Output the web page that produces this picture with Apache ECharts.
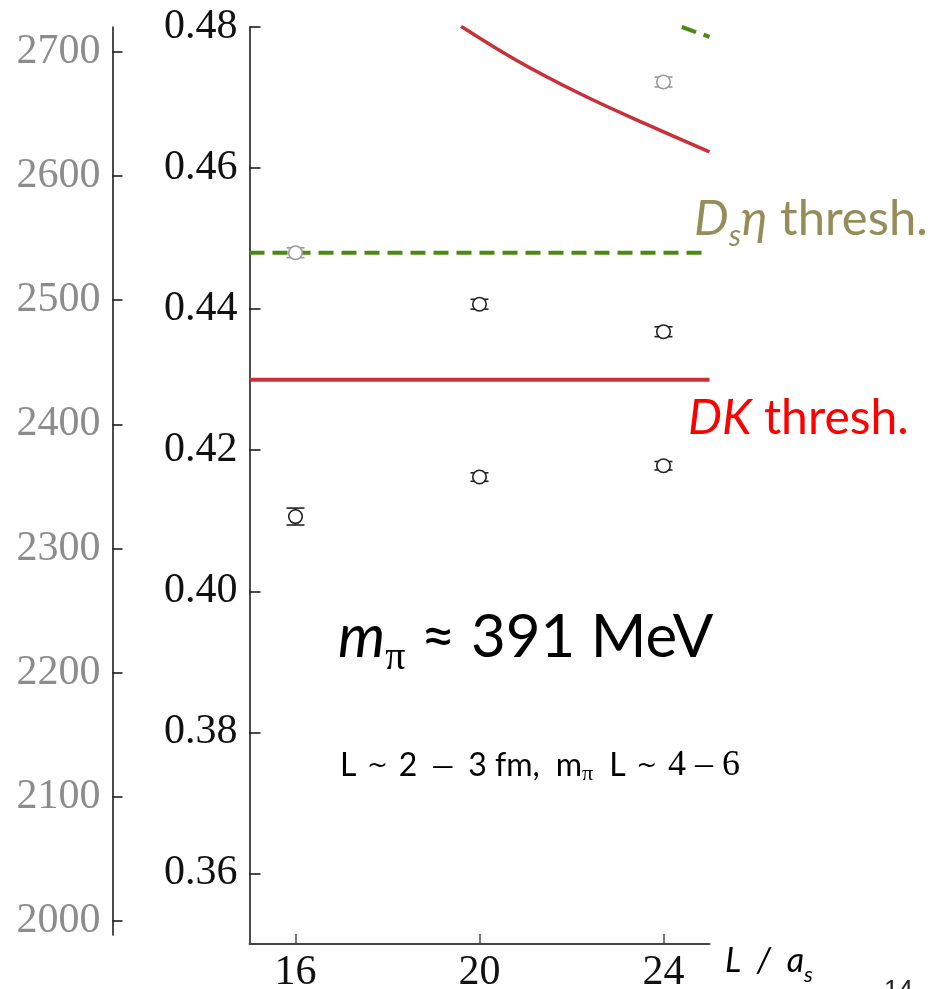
<!DOCTYPE html>
<html>
<head>
<meta charset="utf-8">
<script src="https://cdn.jsdelivr.net/npm/echarts@6/dist/echarts.min.js"></script>
<style>
html,body{margin:0;padding:0;background:#fff;}
#chart{width:935px;height:989px;}
</style>
</head>
<body>
<div id="chart"></div>
<script>
// ---- data ----
const xTicks = [16, 20, 24];
const energyTicks = [0.36, 0.38, 0.40, 0.42, 0.44, 0.46, 0.48];
const massTicks = [2000, 2100, 2200, 2300, 2400, 2500, 2600, 2700];

const levelL = [16, 16, 20, 20, 24, 24, 24];
const levelE = [0.4480, 0.4106, 0.4407, 0.4162, 0.4368, 0.4178, 0.4722];
const levelErr = [0.0007, 0.0012, 0.0007, 0.0006, 0.0007, 0.0006, 0.0007];
const levelFaded = [true, false, false, false, false, false, true];

const dkThreshold = 0.4300;
const dsEtaThreshold = 0.4480;
const thresholdRange = [15, 25];

const curveRedL = [19.6, 20.8, 22.2, 23.6, 25.0];
const curveRedE = [0.4801, 0.4753, 0.4705, 0.4663, 0.4623];
const curveGreenL = [24.4, 25.0];
const curveGreenE = [0.4800, 0.4786];

// ---- build ----
const pts = levelL.map((l, i) => [l, levelE[i], levelErr[i], levelFaded[i] ? 1 : 0]);
const red = '#c8303a', green = '#4a8a10';
const serif = 'Liberation Serif';
const es = '\u2002', ts = '\u2004';

const chart = echarts.init(document.getElementById('chart'), null, {renderer: 'canvas'});
chart.setOption({
  animation: false,
  backgroundColor: '#fff',
  grid: [
    {left: 249.5, top: 27, width: 460, height: 917, containLabel: false, outerBoundsMode: 'none'},
    {left: 112.5, top: 27, width: 1, height: 908, containLabel: false, outerBoundsMode: 'none'}
  ],
  xAxis: [
    {
      type: 'value', gridIndex: 0, min: 15, max: 25,
      axisLine: {show: true, lineStyle: {color: '#444', width: 2}},
      axisTick: {show: true, inside: true, length: 10, customValues: xTicks, lineStyle: {color: '#444', width: 1.5}},
      axisLabel: {customValues: xTicks, color: '#111', fontFamily: serif, fontSize: 42, margin: 8},
      splitLine: {show: false}
    },
    {type: 'value', gridIndex: 1, show: false, min: 0, max: 1}
  ],
  yAxis: [
    {
      type: 'value', gridIndex: 0, min: 0.35, max: 0.48,
      axisLine: {show: true, lineStyle: {color: '#111', width: 1.5}},
      axisTick: {show: true, inside: true, length: 11, customValues: energyTicks, lineStyle: {color: '#111', width: 1.5}},
      axisLabel: {customValues: energyTicks, color: '#111', fontFamily: serif, fontSize: 42, margin: 12,
        formatter: v => v.toFixed(2)},
      splitLine: {show: false}
    },
    {
      type: 'value', gridIndex: 1, min: 1988.7, max: 2720.1,
      axisLine: {show: true, lineStyle: {color: '#111', width: 1.5}},
      axisTick: {show: true, inside: true, length: 10, customValues: massTicks, lineStyle: {color: '#111', width: 1.5}},
      axisLabel: {customValues: massTicks, color: '#8c8c8c', fontFamily: serif, fontSize: 42, margin: 12,
        formatter: v => String(v)},
      splitLine: {show: false}
    }
  ],
  series: [
    {
      type: 'line', name: 'DK', data: thresholdRange.map(l => [l, dkThreshold]),
      symbol: 'none', lineStyle: {color: red, width: 4}, z: 2
    },
    {
      type: 'line', name: 'Dseta', data: thresholdRange.map(l => [l, dsEtaThreshold]),
      symbol: 'none', lineStyle: {color: green, width: 4, type: [15, 8]}, z: 2
    },
    {
      type: 'line', name: 'DKcurve', data: curveRedL.map((l, i) => [l, curveRedE[i]]),
      symbol: 'none', smooth: 0.4, lineStyle: {color: red, width: 3.5}, z: 2
    },
    {
      type: 'line', name: 'Dsetacurve', data: curveGreenL.map((l, i) => [l, curveGreenE[i]]),
      symbol: 'none', lineStyle: {color: green, width: 4, type: [15, 8]}, z: 2
    },
    {
      type: 'custom', name: 'err', data: pts, z: 3,
      renderItem: function (params, api) {
        const x = api.value(0), y = api.value(1), e = api.value(2);
        const c = api.value(3) ? '#9a9a9a' : '#222';
        const t = api.coord([x, y + e]), b = api.coord([x, y - e]);
        const hw = 9;
        const st = {stroke: c, lineWidth: 1.6};
        return {type: 'group', children: [
          {type: 'line', shape: {x1: t[0], y1: t[1], x2: b[0], y2: b[1]}, style: st},
          {type: 'line', shape: {x1: t[0] - hw, y1: t[1], x2: t[0] + hw, y2: t[1]}, style: st},
          {type: 'line', shape: {x1: b[0] - hw, y1: b[1], x2: b[0] + hw, y2: b[1]}, style: st}
        ]};
      }
    },
    {
      type: 'scatter', name: 'levels', z: 4, symbol: 'circle', symbolSize: 13.5,
      data: pts.map(p => ({value: [p[0], p[1]], itemStyle: {color: '#fff', opacity: 1, borderColor: p[3] ? '#9a9a9a' : '#222', borderWidth: 1.6}}))
    }
  ],
  graphic: [
    {
      type: 'text', x: 694, y: 219, z: 10,
      style: {
        text: '{i|D}{is|s}{i|η}{n| thresh.}',
        verticalAlign: 'middle', align: 'left', fill: '#968c5a',
        rich: {
          i: {fontFamily: 'Lato', fontStyle: 'italic', fontSize: 49, lineHeight: 65},
          is: {fontFamily: 'Lato', fontStyle: 'italic', fontSize: 31, lineHeight: 10, verticalAlign: 'bottom'},
          n: {fontFamily: 'Lato', fontSize: 49, lineHeight: 65}
        }
      }
    },
    {
      type: 'text', x: 688, y: 419, z: 10,
      style: {
        text: '{i|DK}{n| thresh.}',
        verticalAlign: 'middle', align: 'left', fill: '#ff0000',
        rich: {
          i: {fontFamily: 'Lato', fontStyle: 'italic', fontSize: 48, lineHeight: 54},
          n: {fontFamily: 'Lato', fontSize: 48, lineHeight: 54}
        }
      }
    },
    {
      type: 'text', x: 338, y: 638, z: 10,
      style: {
        text: '{i|m}{p|π}{n| ≈ 391 MeV}',
        verticalAlign: 'middle', align: 'left', fill: '#000',
        rich: {
          i: {fontFamily: 'Lato', fontStyle: 'italic', fontSize: 60, lineHeight: 81},
          p: {fontFamily: serif, fontSize: 40, lineHeight: 10, verticalAlign: 'bottom'},
          n: {fontFamily: 'Lato', fontSize: 60, lineHeight: 81}
        }
      }
    },
    {
      type: 'text', x: 340, y: 766, z: 10,
      style: {
        text: '{n|L' + ts + '}{t|~}{n|' + ts + '2' + es + '}{d|–}{n|' + es + '3 fm,' + es + 'm}{p|π}{n|' + es + 'L' + ts + '}{t|~}{n|' + ts + '}{s|4 – 6}',
        verticalAlign: 'middle', align: 'left', fill: '#000',
        rich: {
          n: {fontFamily: 'Lato', fontSize: 32, lineHeight: 38},
          t: {fontFamily: 'DejaVu Sans', fontSize: 25, lineHeight: 38},
          d: {fontFamily: serif, fontSize: 38, lineHeight: 38},
          p: {fontFamily: serif, fontSize: 22, lineHeight: 10, verticalAlign: 'bottom'},
          s: {fontFamily: serif, fontSize: 36, lineHeight: 38}
        }
      }
    },
    {
      type: 'text', x: 725, y: 961, z: 10,
      style: {
        text: '{i|L' + es + '/' + es + 'a}{s|s}',
        verticalAlign: 'middle', align: 'left', fill: '#000',
        rich: {
          i: {fontFamily: 'Lato', fontStyle: 'italic', fontSize: 34, lineHeight: 49},
          s: {fontFamily: 'Lato', fontStyle: 'italic', fontSize: 22, lineHeight: 6, verticalAlign: 'bottom'}
        }
      }
    },
    {
      type: 'text', x: 884, y: 978, z: 10,
      style: {text: '14', fontFamily: 'Liberation Sans', fontSize: 26, fill: '#222', verticalAlign: 'top', align: 'left'}
    }
  ]
});
</script>
</body>
</html>
